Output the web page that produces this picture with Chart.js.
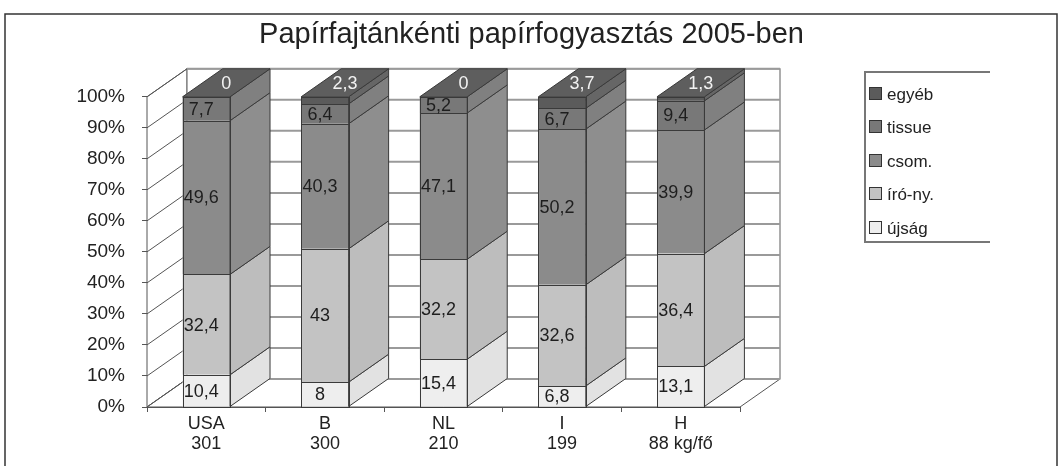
<!DOCTYPE html>
<html>
<head>
<meta charset="utf-8">
<script src="https://cdn.jsdelivr.net/npm/chart.js@4.4.1/dist/chart.umd.min.js"></script>
<style>
html,body{margin:0;padding:0;background:#fff;}
#wrap{position:relative;width:1063px;height:466px;}
</style>
</head>
<body>
<div id="wrap"><canvas id="c" width="1063" height="466"></canvas></div>
<script>
const categories = [['USA','301'],['B','300'],['NL','210'],['I','199'],['H','88 kg/fő']];
const ujsag  = [10.4, 8, 15.4, 6.8, 13.1];
const iroNy  = [32.4, 43, 32.2, 32.6, 36.4];
const csom   = [49.6, 40.3, 47.1, 50.2, 39.9];
const tissue = [7.7, 6.4, 5.2, 6.7, 9.4];
const egyeb  = [0, 2.3, 0, 3.7, 1.3];
const seriesNames = ['újság','író-ny.','csom.','tissue','egyéb'];
const yTicks = [0,10,20,30,40,50,60,70,80,90,100];
const titleText = 'Papírfajtánkénti papírfogyasztás 2005-ben';

const raw = [ujsag, iroNy, csom, tissue, egyeb];
const frontColors = ['#eeeeee','#c3c3c3','#8b8b8b','#787878','#5b5b5b'];
const sideColors  = ['#e2e2e2','#bdbdbd','#8e8e8e','#808080','#666666'];
const topColor = '#5e5e5e';
const EDGE = '#3a3a3a';
const DX = 40, DY = -28;
const FONT = '"Liberation Sans", Arial, sans-serif';

const totals = categories.map((c,i)=>raw.reduce((s,a)=>s+a[i],0));
const datasets = raw.map((arr,k)=>({
  label: seriesNames[k],
  data: arr.map((v,i)=>v/totals[i]*100),
  rawValues: arr,
  backgroundColor: frontColors[k],
  borderWidth: 0,
  categoryPercentage: 1,
  barPercentage: 0.4,
  yAxisID: 'y'
}));

function poly(ctx, pts, fill, stroke, lw){
  ctx.beginPath();
  ctx.moveTo(pts[0][0], pts[0][1]);
  for (let i=1;i<pts.length;i++) ctx.lineTo(pts[i][0], pts[i][1]);
  ctx.closePath();
  if (fill){ctx.fillStyle=fill;ctx.fill();}
  if (stroke){ctx.strokeStyle=stroke;ctx.lineWidth=lw||1;ctx.stroke();}
}

const walls = {
  id:'walls',
  beforeDatasetsDraw(chart){
    const {ctx, chartArea:a, scales:{y}} = chart;
    const L=a.left, R=a.right, T=a.top, B=a.bottom;
    ctx.save();
    poly(ctx, [[L,T],[L+DX,T+DY],[L+DX,B+DY],[L,B]], '#fff', '#555', 1);
    poly(ctx, [[L+DX,T+DY],[R+DX,T+DY],[R+DX,B+DY],[L+DX,B+DY]], '#fff', '#777', 1.2);
    poly(ctx, [[L,B],[R,B],[R+DX,B+DY],[L+DX,B+DY]], '#fff', '#555', 1);
    yTicks.forEach(v=>{
      const py = y.getPixelForValue(v);
      ctx.beginPath();
      ctx.moveTo(L+DX, py+DY); ctx.lineTo(R+DX, py+DY);
      ctx.strokeStyle='#9a9a9a'; ctx.lineWidth=2; ctx.stroke();
      ctx.beginPath();
      ctx.moveTo(L, py); ctx.lineTo(L+DX, py+DY);
      ctx.strokeStyle='#555'; ctx.lineWidth=1; ctx.stroke();
    });
    ctx.restore();
  },
  afterDatasetsDraw(chart){
    const ctx = chart.ctx;
    const n = chart.data.labels.length;
    ctx.save();
    for (let i=0;i<n;i++){
      let topY=null, left=0, right=0;
      chart.data.datasets.forEach((ds,k)=>{
        const el = chart.getDatasetMeta(k).data[i];
        const w = el.width;
        left = el.x - w/2; right = el.x + w/2;
        const yt = Math.min(el.y, el.base), yb = Math.max(el.y, el.base);
        if (yb-yt > 0.01){
          poly(ctx, [[right,yt],[right+DX,yt+DY],[right+DX,yb+DY],[right,yb]], sideColors[k], EDGE, 1);
          ctx.strokeStyle=EDGE; ctx.lineWidth=1;
          ctx.strokeRect(Math.round(left)+0.5, Math.round(yt)+0.5, Math.round(right)-Math.round(left), Math.round(yb)-Math.round(yt));
        }
        if (topY===null || yt<topY) topY = yt;
      });
      poly(ctx, [[left,topY],[left+DX,topY+DY],[right+DX,topY+DY],[right,topY]], topColor, EDGE, 1);
    }
    ctx.font = '18px '+FONT;
    ctx.textAlign='center'; ctx.textBaseline='middle';
    chart.data.datasets.forEach((ds,k)=>{
      const meta = chart.getDatasetMeta(k);
      meta.data.forEach((el,i)=>{
        const txt = String(ds.rawValues[i]).replace('.',',');
        if (k===4){
          ctx.fillStyle='#f2f2f2';
          ctx.fillText(txt, el.x + DX/2, Math.min(el.y,el.base) + DY/2 + 1);
        } else {
          ctx.fillStyle='#1e1e1e';
          ctx.fillText(txt, el.x - 5, (el.y+el.base)/2 + 1);
        }
      });
    });
    ctx.restore();
  },
  afterDraw(chart){
    const ctx = chart.ctx;
    ctx.save();
    ctx.strokeStyle='#333'; ctx.lineWidth=1.5;
    ctx.beginPath(); ctx.moveTo(5,470); ctx.lineTo(5,14); ctx.lineTo(1057,14); ctx.lineTo(1057,470); ctx.stroke();
    ctx.strokeStyle='#777'; ctx.lineWidth=2;
    ctx.beginPath(); ctx.moveTo(990,72); ctx.lineTo(865,72); ctx.lineTo(865,242); ctx.lineTo(990,242); ctx.stroke();
    const items = [4,3,2,1,0];
    const ys = [94,127,161,194,228];
    ctx.font = '17px '+FONT; ctx.textAlign='left'; ctx.textBaseline='middle';
    items.forEach((k,j)=>{
      ctx.fillStyle = frontColors[k];
      ctx.fillRect(869, ys[j]-7, 13, 13);
      ctx.strokeStyle='#333'; ctx.lineWidth=1;
      ctx.strokeRect(869.5, ys[j]-6.5, 12, 12);
      ctx.fillStyle='#222';
      ctx.fillText(seriesNames[k], 887, ys[j]+1);
    });
    ctx.restore();
  }
};

new Chart(document.getElementById('c'), {
  type:'bar',
  data:{ labels: categories, datasets },
  options:{
    responsive:false,
    animation:false,
    layout:{ padding:{ left:0, right:0, top:0, bottom:0 } },
    plugins:{
      legend:{display:false},
      tooltip:{enabled:false},
      title:{ display:true, text:titleText, color:'#222',
        font:{family:FONT, size:29, weight:'normal'}, padding:{top:18, bottom:44} }
    },
    scales:{
      x:{
        stacked:true,
        grid:{ display:true, drawOnChartArea:false, drawTicks:true, tickLength:5, offset:true, color:'#555' },
        border:{ display:true, color:'#555', width:1 },
        ticks:{ color:'#222', font:{family:FONT, size:18, lineHeight:1.1}, padding:2, maxRotation:0 },
        afterFit(s){ s.height = 59; }
      },
      y:{
        stacked:true, min:0, max:100, position:'left',
        grid:{ display:true, drawOnChartArea:false, drawTicks:true, tickLength:5, color:'#555' },
        border:{ display:true, color:'#555', width:1 },
        ticks:{ stepSize:10, color:'#222', font:{family:FONT, size:19}, padding:17,
          callback:(v)=>v+'%' },
        afterFit(s){ s.width = 147; }
      },
      yRight:{
        position:'right', display:true, min:0, max:100,
        grid:{ display:false }, border:{ display:false }, ticks:{ display:false },
        afterFit(s){ s.width = 323; }
      }
    }
  },
  plugins:[walls]
});
</script>
</body>
</html>
